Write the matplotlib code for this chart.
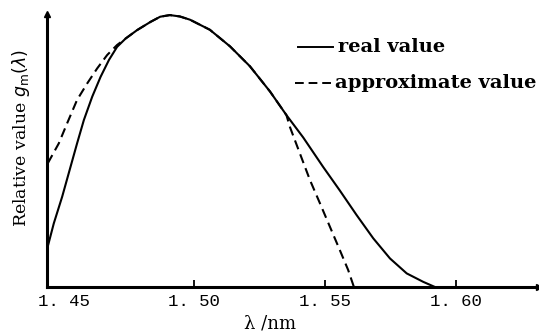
import matplotlib
matplotlib.use("Agg")
import matplotlib.pyplot as plt

# Real value curve (solid)
real_x = [1.4438, 1.4463, 1.4495, 1.4527, 1.4552, 1.4578, 1.4610, 1.4642, 1.4674,
          1.4705, 1.4738, 1.4782, 1.4833, 1.4870, 1.4907, 1.4945, 1.4984, 1.5060,
          1.5137, 1.5213, 1.5290, 1.5353, 1.5417, 1.5493, 1.5557, 1.5621, 1.5685,
          1.5749, 1.5813, 1.5876, 1.5921]
real_y = [0.142, 0.234, 0.332, 0.442, 0.528, 0.614, 0.700, 0.773, 0.835,
          0.883, 0.914, 0.945, 0.975, 0.994, 1.000, 0.995, 0.983, 0.946,
          0.885, 0.812, 0.719, 0.632, 0.550, 0.442, 0.355, 0.265, 0.179,
          0.105, 0.050, 0.019, 0.000]

# Approximate value curve (dashed)
appr_x = [1.4440, 1.4482, 1.4514, 1.4552, 1.4591, 1.4629, 1.4667, 1.4705, 1.4738,
          1.4782, 1.4833, 1.4870, 1.4907, 1.4945, 1.4984, 1.5060, 1.5137, 1.5213,
          1.5290, 1.5353, 1.5366, 1.5404, 1.5443, 1.5481, 1.5519, 1.5557, 1.5589,
          1.5611]
appr_y = [0.455, 0.528, 0.602, 0.688, 0.749, 0.804, 0.853, 0.890, 0.914,
          0.945, 0.975, 0.994, 1.000, 0.995, 0.983, 0.946, 0.885, 0.812,
          0.719, 0.632, 0.589, 0.492, 0.393, 0.308, 0.222, 0.136, 0.0625,
          0.000]

xticks = [1.45, 1.50, 1.55, 1.60]
xticklabels = ["1. 45", "1. 50", "1. 55", "1. 60"]

fig = plt.figure(figsize=(5.39, 3.35), dpi=100)
ax = fig.add_axes([47/539, 1-287/335, 1-47/539, (287-14)/335])

ax.plot(real_x, real_y, color="black", lw=1.5, solid_joinstyle="round")
ax.plot(appr_x, appr_y, color="black", lw=1.5, linestyle=(0, (4.5, 2.6)))

ax.set_xlim(1.4437, 1.6319)
ax.set_ylim(0, 1.004)

for s in ["top", "right"]:
    ax.spines[s].set_visible(False)
for s in ["left", "bottom"]:
    ax.spines[s].set_linewidth(2.2)

ax.set_yticks([])
ax.set_xticks(xticks)
ax.set_xticklabels(xticklabels, family="Liberation Mono", fontsize=12.5)
ax.tick_params(axis="x", direction="in", length=5, width=1.3, pad=5)
ax.xaxis.get_major_ticks()[0].tick1line.set_visible(False)

# arrow heads at axis ends
ax.plot([0], [1.0], marker="^", color="black", markersize=5, transform=ax.transAxes, clip_on=False)
ax.plot([1.0], [0], marker=">", color="black", markersize=5, transform=ax.transAxes, clip_on=False)

ax.set_xlabel("λ /nm", family="DejaVu Serif", fontsize=13)
ax.xaxis.set_label_coords((270-47)/(539-47), -(323-287)/273)
ax.set_ylabel(r"Relative value $g_{\mathrm{m}}(\lambda)$", family="DejaVu Serif",
              fontsize=12.5)
ax.yaxis.set_label_coords(-(47-21)/(539-47), 0.546)
ax.yaxis.label.set_va("center")
ax.xaxis.label.set_va("center")

# legend-like annotation
fig.lines.append(plt.Line2D([298/539, 333/539], [1-47/335, 1-47/335], color="black", lw=1.4,
                            transform=fig.transFigure))
fig.text(338/539, 1-47/335, "real value", family="DejaVu Serif", fontweight="bold",
         fontsize=14, va="center", ha="left")
fig.lines.append(plt.Line2D([295/539, 335/539], [1-83/335, 1-83/335], color="black", lw=1.4,
                            linestyle=(0, (4.5, 2.5)), transform=fig.transFigure))
fig.text(335/539, 1-83/335, "approximate value", family="DejaVu Serif", fontweight="bold",
         fontsize=14, va="center", ha="left")

fig.savefig("out.png", dpi=100)
